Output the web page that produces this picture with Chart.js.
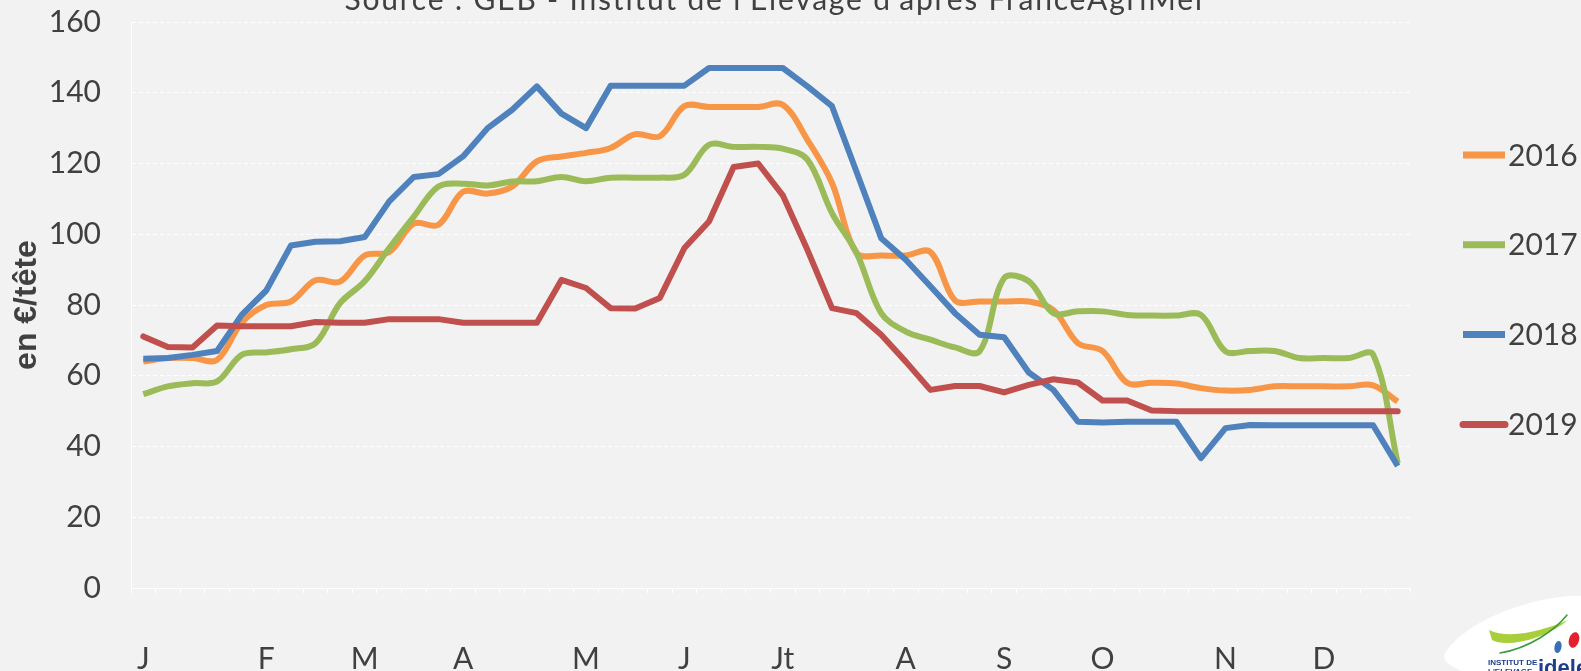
<!DOCTYPE html>
<html>
<head>
<meta charset="utf-8">
<script src="https://cdn.jsdelivr.net/npm/chart.js@4.4.0/dist/chart.umd.min.js"></script>
<style>
  html, body { margin: 0; padding: 0; background: #f2f2f2; }
  canvas { display: block; }
</style>
</head>
<body>
<canvas id="myChart" width="1581" height="671"></canvas>
<script>
// 52 semaines, lettre du mois sur la premiere semaine du mois
const weeks = ['J','','','','','F','','','','M','','','','A','','','','','M','','','','J','','','','Jt','','','','','A','','','','S','','','','O','','','','','N','','','','D','','',''];

const prix2016 = [64,65,65,64.5,75,80,81,87,86.6,94,95,103,102.7,112,111.5,113.5,120.6,122,123,124.4,128.3,127.7,136.2,136,136,136,136.6,126.7,114.5,94.7,94,94,95,81.3,81,81,81,78.6,69.2,67,58,58,57.8,56.5,55.8,56,57,57,57,57,57.3,52.7];
const prix2017 = [54.8,57,57.9,58.4,65.9,66.6,67.5,69.2,80.5,86.7,96.1,105,113.5,114.3,113.8,114.9,115,116.2,115,116,116,116,116.8,125.3,124.7,124.7,124.2,121.1,106,94.7,77.7,72.5,70.2,68,66.9,87.6,86.7,77.7,78.2,78.2,77.2,77,77,77.2,66.9,67,67,65,65,65,66,35.3];
const prix2018 = [64.8,65,65.9,67,77.2,84.1,96.8,97.9,98,99.2,109.3,116.2,117,122,130,135.2,141.8,134.1,130,142,142,142,142,147,147,147,147,141.8,136.2,117.6,98.9,92.8,85.3,77.7,71.6,70.9,60.9,56,47,46.8,47,47,47,36.7,45.2,46.1,46,46,46,46,46,34.5];
const prix2019 = [71.1,68.1,68,74.2,74,74,74,75.2,75,75,76,76,76,75,75,75,75,87.1,84.8,79.1,79,82,96.1,103.6,119,120,111,95.6,79.1,77.7,71.6,64,56,57.1,57.1,55.3,57.4,59,58.1,53,53,50.2,50,50,50,50,50,50,50,50,50,50];

const yTicks = [0,20,40,60,80,100,120,140,160];
const source = "Source : GEB - Institut de l'Elevage d'après FranceAgriMer";

const textColor = '#404040';
const mainFont = 'Lato';

// legende, titre et logo dessines a la main
const decor = {
  id: 'decor',
  afterDraw(chart) {
    const ctx = chart.ctx;
    ctx.save();
    // legende
    chart.data.datasets.forEach((ds, i) => {
      const y = 155 + i * 89.8;
      ctx.strokeStyle = ds.borderColor;
      ctx.lineWidth = 7;
      ctx.lineCap = ds.borderCapStyle;
      ctx.beginPath();
      ctx.moveTo(1463, y);
      ctx.lineTo(1505, y);
      ctx.stroke();
      ctx.fillStyle = textColor;
      ctx.font = '30px ' + mainFont;
      ctx.textAlign = 'left';
      ctx.textBaseline = 'middle';
      ctx.fillText(ds.label, 1508, y + 1);
    });
    // titre coupe en haut
    ctx.font = '30px ' + mainFont;
    ctx.letterSpacing = '1.8px';
    ctx.textAlign = 'center';
    ctx.textBaseline = 'alphabetic';
    ctx.fillStyle = textColor;
    ctx.fillText(source, 776, 10);
    ctx.letterSpacing = '0px';
    // logo idele
    ctx.fillStyle = '#ffffff';
    ctx.beginPath();
    ctx.moveTo(1446, 652);
    ctx.bezierCurveTo(1468, 618, 1540, 594, 1581, 596);
    ctx.lineTo(1581, 671);
    ctx.lineTo(1462, 671);
    ctx.bezierCurveTo(1446, 665, 1441, 658, 1446, 652);
    ctx.fill();
    ctx.fillStyle = '#a8cf3a';
    ctx.beginPath();
    ctx.moveTo(1489, 630);
    ctx.bezierCurveTo(1510, 640, 1545, 630, 1568, 620);
    ctx.bezierCurveTo(1545, 640, 1505, 648, 1492, 640);
    ctx.closePath();
    ctx.fill();
    ctx.strokeStyle = '#3a9a3a';
    ctx.lineWidth = 1.5;
    ctx.beginPath();
    ctx.moveTo(1500, 653);
    ctx.bezierCurveTo(1530, 648, 1555, 630, 1567, 615);
    ctx.stroke();
    ctx.fillStyle = '#e5202e';
    ctx.beginPath();
    ctx.ellipse(1574, 640, 5, 8, 0.3, 0, Math.PI * 2);
    ctx.fill();
    ctx.fillStyle = '#3a6fb7';
    ctx.beginPath();
    ctx.ellipse(1558, 647, 3.5, 6, 0.2, 0, Math.PI * 2);
    ctx.fill();
    ctx.fillStyle = '#1d3f8a';
    ctx.font = 'bold 8px "Liberation Sans"';
    ctx.textAlign = 'left';
    ctx.fillText('INSTITUT DE', 1488, 665);
    ctx.fillText("L'ELEVAGE", 1488, 674);
    ctx.font = 'bold 22px "Liberation Sans"';
    ctx.fillText('idele', 1538, 675);
    ctx.restore();
  }
};

const myChart = document.getElementById('myChart').getContext('2d');
const lineChart = new Chart(myChart, {
  type: 'line',
  data: {
    labels: weeks,
    datasets: [{
      label: '2016',
      data: prix2016,
      borderColor: '#f79646',
      borderWidth: 6,
      tension: 0.35,
      borderCapStyle: 'butt',
      order: 4
    },
    {
      label: '2017',
      data: prix2017,
      borderColor: '#9bbb59',
      borderWidth: 6,
      tension: 0.35,
      borderCapStyle: 'butt',
      order: 3
    },
    {
      label: '2018',
      data: prix2018,
      borderColor: '#4f81bd',
      borderWidth: 6,
      tension: 0,
      borderCapStyle: 'butt',
      order: 2
    },
    {
      label: '2019',
      data: prix2019,
      borderColor: '#c0504d',
      borderWidth: 6,
      tension: 0,
      borderCapStyle: 'round',
      order: 1
    }]
  },
  options: {
    responsive: false,
    animation: false,
    layout: { padding: { top: 22, right: 171, left: 0, bottom: 0 } },
    elements: { point: { radius: 0 }, line: { borderJoinStyle: 'round' } },
    plugins: {
      legend: { display: false },
      tooltip: { enabled: false }
    },
    scales: {
      x: {
        offset: true,
        grid: {
          offset: true,
          drawOnChartArea: false,
          color: '#ffffff',
          tickLength: 5
        },
        border: { color: '#ffffff', width: 1 },
        ticks: {
          autoSkip: false,
          maxRotation: 0,
          padding: 48,
          color: textColor,
          font: { family: mainFont, size: 30 }
        },
        afterFit: s => { s.height = 83; }
      },
      y: {
        min: 0,
        max: 160,
        afterBuildTicks: s => { s.ticks = yTicks.map(v => ({ value: v })); },
        // marque invisible pour ecarter les libelles sans gonfler le padding haut
        grid: { color: '#ffffff', drawTicks: true, tickLength: 30, tickColor: 'rgba(0,0,0,0)' },
        border: { color: '#ffffff', width: 1, dash: [4, 3] },
        ticks: {
          padding: 0,
          color: textColor,
          font: { family: mainFont, size: 30 }
        },
        title: {
          display: true,
          text: 'en €/tête',
          color: textColor,
          padding: { top: 8, bottom: 0 },
          font: { family: 'Liberation Sans', size: 32, weight: 'bold' }
        },
        afterFit: s => { s.width = 131; }
      }
    }
  },
  plugins: [decor]
});
</script>
</body>
</html>
